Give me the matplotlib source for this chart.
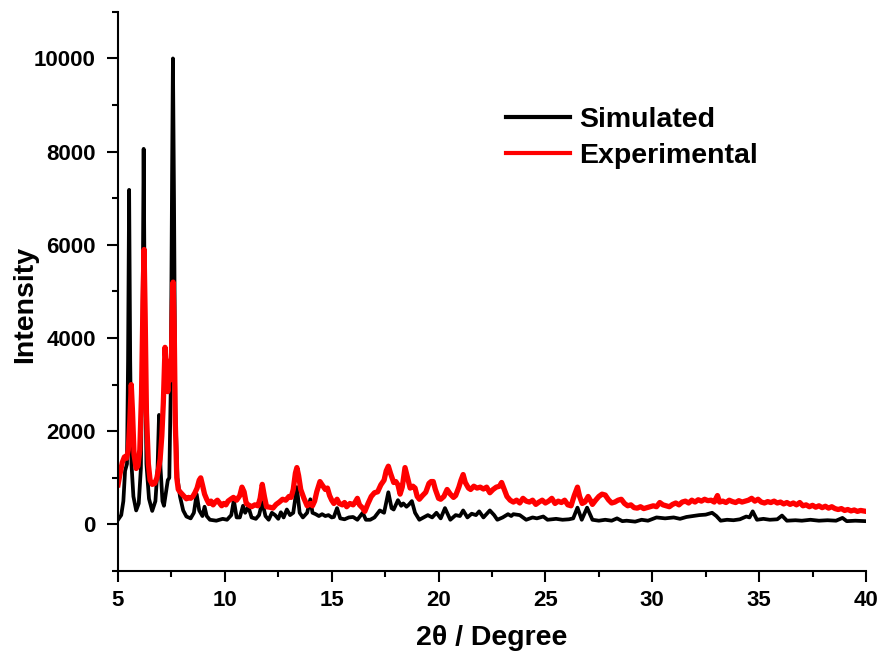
import matplotlib
matplotlib.use("Agg")
import matplotlib.pyplot as plt
import matplotlib.ticker as ticker

# simulated pattern (2theta, intensity)
sim_x = [5.0, 5.15, 5.25, 5.33, 5.42, 5.47, 5.52, 5.57, 5.63, 5.72, 5.85, 5.97, 6.07, 6.14, 6.2, 6.26, 6.33,
         6.45, 6.6, 6.75, 6.85, 6.92, 6.99, 7.08, 7.15, 7.25, 7.33, 7.4, 7.47, 7.53, 7.57, 7.62, 7.68, 7.78,
         7.9, 8.05, 8.2, 8.4, 8.55, 8.68, 8.8, 8.95, 9.05, 9.15, 9.3, 9.6, 9.9, 10.1, 10.3, 10.42, 10.55,
         10.7, 10.85, 10.95, 11.1, 11.25, 11.45, 11.6, 11.75, 11.9, 12.05, 12.2, 12.35, 12.5, 12.62, 12.75,
         12.9, 13.05, 13.2, 13.37, 13.5, 13.65, 13.85, 14.0, 14.1, 14.25, 14.4, 14.55, 14.7, 14.85, 15.0,
         15.1, 15.25, 15.4, 15.6, 15.8, 16.0, 16.2, 16.45, 16.6, 16.8, 17.0, 17.25, 17.45, 17.65, 17.8,
         17.9, 18.1, 18.25, 18.35, 18.5, 18.6, 18.75, 18.9, 19.1, 19.3, 19.5, 19.7, 19.9, 20.1, 20.3, 20.55,
         20.8, 21.0, 21.15, 21.35, 21.55, 21.75, 21.9, 22.1, 22.4, 22.6, 22.75, 23.0, 23.25, 23.4, 23.5,
         23.8, 24.1, 24.4, 24.6, 24.9, 25.1, 25.5, 25.8, 26.1, 26.3, 26.5, 26.7, 26.95, 27.2, 27.5, 27.8,
         28.1, 28.35, 28.6, 28.8, 29.2, 29.5, 29.8, 30.2, 30.6, 31.0, 31.3, 31.6, 31.9, 32.2, 32.5, 32.8,
         33.0, 33.2, 33.5, 33.8, 34.1, 34.4, 34.55, 34.7, 34.9, 35.2, 35.5, 35.85, 36.07, 36.3, 36.7, 37.0,
         37.4, 37.8, 38.2, 38.6, 38.9, 39.1, 39.5, 40.0]
sim_y = [100, 200, 500, 1150, 1300, 3500, 7180, 3500, 1300, 600, 300, 450, 1200, 3800, 8060, 3900, 1300,
         550, 290, 500, 1200, 2350, 1200, 500, 400, 700, 950, 1000, 3000, 7500, 10000, 7000, 2500, 1000,
         600, 300, 170, 130, 250, 650, 300, 180, 380, 180, 100, 80, 120, 100, 200, 520, 150,
         150, 400, 250, 380, 150, 120, 200, 480, 180, 100, 250, 200, 120, 260, 150,
         320, 200, 250, 800, 250, 150, 250, 540, 250, 220, 180, 220, 180, 200, 150,
         160, 350, 130, 110, 150, 160, 100, 250, 100, 100, 150, 300, 250, 690, 350,
         320, 520, 400, 450, 380, 420, 500, 250, 100, 150, 200, 150, 250, 130, 350, 100,
         200, 180, 300, 150, 230, 200, 280, 150, 300, 200, 100, 150, 220, 180, 220,
         200, 100, 150, 130, 170, 100, 120, 100, 110, 130, 360, 100, 360, 100, 80, 100,
         80, 130, 70, 80, 60, 100, 80, 150, 130, 150, 120, 160, 180, 200, 210, 250,
         180, 80, 100, 90, 110, 170, 150, 280, 100, 120, 100, 110, 190, 80, 90, 80,
         100, 80, 90, 80, 140, 70, 80, 70]

# experimental pattern
exp_x = [5.0, 5.1, 5.2, 5.3, 5.4, 5.48, 5.55, 5.62, 5.68, 5.75, 5.85, 5.93, 6.02, 6.1, 6.17, 6.22, 6.27,
         6.33, 6.42, 6.5, 6.6, 6.72, 6.82, 6.9, 6.97, 7.05, 7.12, 7.2, 7.27, 7.33, 7.4, 7.45, 7.5, 7.55,
         7.58, 7.63, 7.68, 7.75, 7.82, 7.9, 8.0, 8.1, 8.2, 8.3, 8.4, 8.5, 8.6, 8.7, 8.8, 8.87, 8.95, 9.05,
         9.15, 9.25, 9.35, 9.45, 9.55, 9.65, 9.75, 9.85, 9.95, 10.05, 10.15, 10.3, 10.4, 10.55, 10.7, 10.8,
         10.9, 11.0, 11.1, 11.25, 11.4, 11.55, 11.65, 11.75, 11.85, 11.95, 12.1, 12.25, 12.4, 12.55, 12.7,
         12.85, 13.0, 13.1, 13.2, 13.3, 13.37, 13.45, 13.55, 13.7, 13.85, 14.0, 14.1, 14.2, 14.3, 14.45,
         14.55, 14.7, 14.8, 14.9, 15.0, 15.1, 15.25, 15.35, 15.5, 15.6, 15.7, 15.85, 16.0, 16.1, 16.2, 16.3,
         16.45, 16.55, 16.7, 16.85, 17.0, 17.15, 17.3, 17.45, 17.55, 17.65, 17.75, 17.9, 18.0, 18.1, 18.2,
         18.3, 18.43, 18.55, 18.67, 18.8, 18.9, 19.0, 19.1, 19.25, 19.4, 19.55, 19.65, 19.75, 19.85, 20.0,
         20.1, 20.25, 20.4, 20.55, 20.7, 20.8, 20.95, 21.05, 21.15, 21.25, 21.4, 21.5, 21.65, 21.8, 21.95,
         22.1, 22.25, 22.4, 22.55, 22.7, 22.85, 22.95, 23.05, 23.2, 23.35, 23.5, 23.65, 23.8, 23.95, 24.1,
         24.25, 24.4, 24.55, 24.7, 24.85, 25.0, 25.15, 25.3, 25.45, 25.6, 25.75, 25.9, 26.05, 26.2, 26.35,
         26.5, 26.6, 26.72, 26.85, 27.0, 27.1, 27.2, 27.35, 27.5, 27.65, 27.8, 27.95, 28.1, 28.25, 28.4,
         28.55, 28.7, 28.85, 29.0, 29.15, 29.3, 29.45, 29.6, 29.75, 29.9, 30.05, 30.2, 30.35, 30.5, 30.65,
         30.8, 30.95, 31.1, 31.25, 31.4, 31.55, 31.7, 31.85, 32.0, 32.15, 32.3, 32.45, 32.6, 32.75, 32.9,
         33.05, 33.15, 33.3, 33.45, 33.6, 33.75, 33.9, 34.05, 34.2, 34.35, 34.5, 34.65, 34.8, 34.95, 35.1,
         35.25, 35.4, 35.55, 35.7, 35.85, 36.0, 36.15, 36.3, 36.45, 36.6, 36.75, 36.9, 37.05, 37.2, 37.35,
         37.5, 37.65, 37.8, 37.95, 38.1, 38.25, 38.4, 38.55, 38.7, 38.85, 39.0, 39.15, 39.3, 39.45, 39.6,
         39.75, 40.0]
exp_y = [850, 1100, 1330, 1450, 1420, 1600, 2200, 3000, 2400, 1500, 1200, 1250, 1600, 2800, 4800, 5900, 4500,
         2400, 1300, 950, 860, 880, 1000, 1200, 1400, 1900, 2600, 3800, 3300, 2850, 3500, 3100, 3600, 4800,
         5200, 4200, 2200, 1000, 750, 700, 650, 600, 550, 580, 560, 600, 680, 780, 950, 1000, 850, 650,
         540, 450, 500, 420, 480, 520, 460, 400, 450, 420, 500, 550, 580, 520, 620, 800,
         700, 450, 420, 380, 420, 400, 560, 860, 600, 380, 370, 350, 430, 480, 540,
         520, 600, 580, 750, 1100, 1220, 1050, 750, 560, 400, 450, 400, 500, 700, 920,
         850, 750, 780, 620, 520, 450, 540, 450, 420, 470, 380, 450, 420, 480, 560, 420,
         350, 280, 450, 600, 680, 700, 850, 950, 1150, 1250, 1100, 900, 920, 850, 650,
         800, 1220, 1000, 780, 820, 780, 600, 540, 620, 690, 880, 920, 920, 750, 560,
         540, 600, 750, 650, 580, 620, 800, 950, 1070, 900, 780, 750, 820, 780, 800,
         760, 800, 680, 750, 800, 820, 900, 780, 600, 520, 480, 520, 460, 560, 500,
         480, 520, 430, 480, 520, 460, 500, 560, 450, 500, 470, 520, 420, 400, 620,
         800, 600, 450, 480, 600, 520, 430, 520, 600, 650, 630, 530, 460, 480, 520,
         540, 450, 400, 420, 360, 350, 380, 340, 360, 380, 400, 380, 470, 420, 400,
         380, 430, 460, 420, 480, 500, 460, 520, 480, 530, 500, 540, 510, 520, 480,
         620, 480, 500, 470, 520, 490, 470, 510, 480, 500, 520, 560, 500, 540, 480,
         460, 490, 470, 500, 460, 480, 440, 470, 430, 460, 420, 470, 400, 420, 380,
         410, 370, 400, 360, 390, 350, 380, 340, 320, 340, 300, 320, 290, 310, 280,
         300, 280]

x_ticks = [5, 10, 15, 20, 25, 30, 35, 40]
y_ticks = [0, 2000, 4000, 6000, 8000, 10000]

font = ['Liberation Sans', 'DejaVu Sans']

fig = plt.figure(figsize=(8.84, 6.59), dpi=100)
ax = fig.add_axes([0.1335, 0.1335, 0.8461, 0.8485])

ax.plot(sim_x, sim_y, color='black', linewidth=2.7, label='Simulated')
ax.plot(exp_x, exp_y, color='#ff0000', linewidth=3.8, label='Experimental')

ax.set_xlim(5, 40)
ax.set_ylim(-1000, 11000)
ax.set_xticks(x_ticks)
ax.set_yticks(y_ticks)
ax.xaxis.set_minor_locator(ticker.MultipleLocator(2.5))
ax.yaxis.set_minor_locator(ticker.MultipleLocator(1000))

ax.spines['top'].set_visible(False)
ax.spines['right'].set_visible(False)
for s in ['left', 'bottom']:
    ax.spines[s].set_linewidth(1.5)
ax.tick_params(which='major', direction='out', length=8, width=1.5, pad=6)
ax.tick_params(axis='y', which='major', pad=8)
ax.tick_params(which='minor', direction='out', length=4.5, width=1.5)

for lab in ax.get_xticklabels() + ax.get_yticklabels():
    lab.set_family(font)
    lab.set_fontweight('bold')
    lab.set_fontsize(16)

ax.set_xlabel('2\u03b8 / Degree', family=font, fontweight='bold', fontsize=20.5, labelpad=10)
ax.set_ylabel('Intensity', family=font, fontweight='bold', fontsize=20.5)
ax.yaxis.set_label_coords(-0.107, 0.476)

leg = ax.legend(loc='upper left', bbox_to_anchor=(0.4995, 0.856), frameon=False,
                borderpad=0, handlelength=2.25, handletextpad=0.34, labelspacing=0.37,
                prop={'family': font, 'weight': 'bold', 'size': 20.5})
for line in leg.get_lines():
    line.set_linewidth(3)

fig.savefig('out.png', dpi=100)
